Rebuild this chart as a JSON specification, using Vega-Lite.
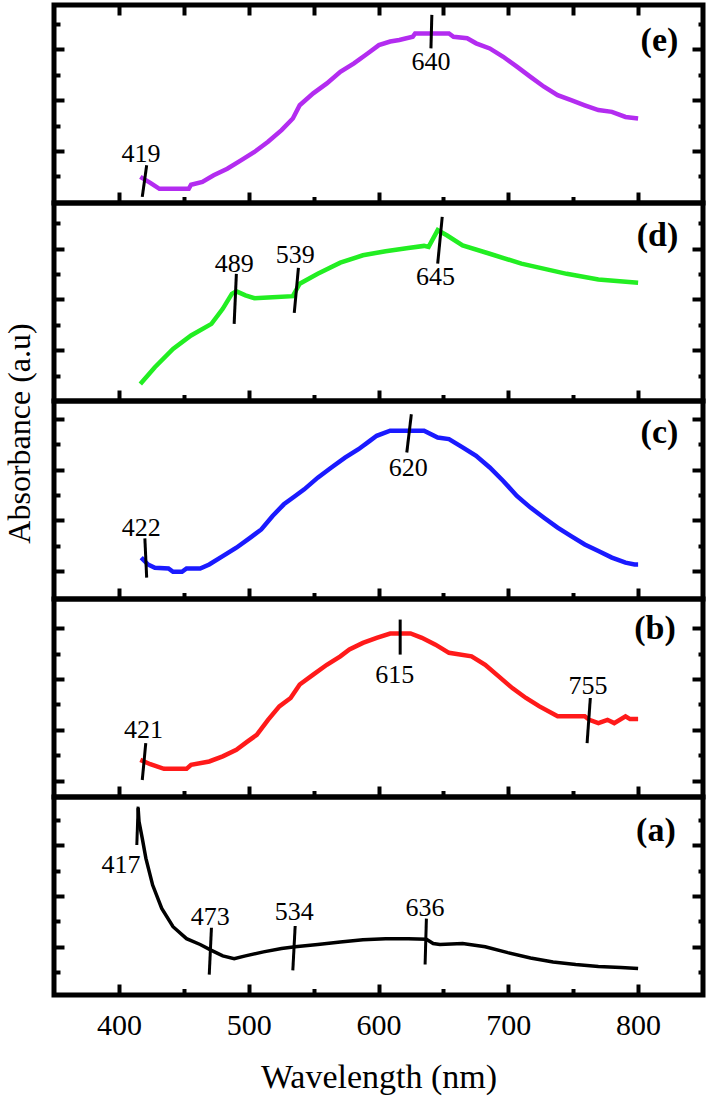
{
  "$schema": "https://vega.github.io/schema/vega-lite/v6.json",
  "padding": {"left": 0, "top": 0, "right": 4, "bottom": 2},
  "background": "white",
  "spacing": 0,
  "bounds": "flush",
  "config": {
    "view": {"stroke": "black", "strokeWidth": 5},
    "axis": {"domain": false, "grid": false, "tickColor": "black", "tickWidth": 4}
  },
  "datasets": {
    "curves": [
      {"p":"e","w":416.5,"a":1.03},{"p":"e","w":424.2,"a":0.79},{"p":"e","w":431.2,"a":0.56},{"p":"e","w":453.8,"a":0.56},{"p":"e","w":455.6,"a":0.72},{"p":"e","w":464.3,"a":0.83},{"p":"e","w":473,"a":1.09},{"p":"e","w":483.5,"a":1.35},{"p":"e","w":494,"a":1.68},{"p":"e","w":504.4,"a":2.01},{"p":"e","w":514.9,"a":2.41},{"p":"e","w":525.3,"a":2.87},{"p":"e","w":534,"a":3.33},{"p":"e","w":539.3,"a":3.85},{"p":"e","w":549.7,"a":4.32},{"p":"e","w":560.2,"a":4.71},{"p":"e","w":570.6,"a":5.17},{"p":"e","w":581.1,"a":5.5},{"p":"e","w":591.6,"a":5.89},{"p":"e","w":600.3,"a":6.22},{"p":"e","w":609,"a":6.36},{"p":"e","w":616,"a":6.42},{"p":"e","w":626.4,"a":6.55},{"p":"e","w":628.2,"a":6.68},{"p":"e","w":654.3,"a":6.68},{"p":"e","w":657.8,"a":6.55},{"p":"e","w":668.3,"a":6.49},{"p":"e","w":675.2,"a":6.29},{"p":"e","w":685.7,"a":6.09},{"p":"e","w":696.1,"a":5.76},{"p":"e","w":706.6,"a":5.37},{"p":"e","w":717.1,"a":4.97},{"p":"e","w":727.5,"a":4.58},{"p":"e","w":738,"a":4.25},{"p":"e","w":748.4,"a":4.05},{"p":"e","w":758.9,"a":3.85},{"p":"e","w":769.4,"a":3.66},{"p":"e","w":779.8,"a":3.59},{"p":"e","w":790.3,"a":3.39},{"p":"e","w":800,"a":3.33},
      {"p":"d","w":416.5,"a":0.67},{"p":"d","w":427.7,"a":1.33},{"p":"d","w":441.7,"a":2.05},{"p":"d","w":455.6,"a":2.58},{"p":"d","w":471.3,"a":3.04},{"p":"d","w":480,"a":3.63},{"p":"d","w":487,"a":4.22},{"p":"d","w":490.5,"a":4.32},{"p":"d","w":497.5,"a":4.16},{"p":"d","w":504.4,"a":4.05},{"p":"d","w":518.4,"a":4.09},{"p":"d","w":534,"a":4.13},{"p":"d","w":539.3,"a":4.62},{"p":"d","w":553.2,"a":5.01},{"p":"d","w":570.6,"a":5.45},{"p":"d","w":588,"a":5.74},{"p":"d","w":605.5,"a":5.9},{"p":"d","w":622.9,"a":6.03},{"p":"d","w":635.1,"a":6.11},{"p":"d","w":638.6,"a":6.07},{"p":"d","w":645.6,"a":6.73},{"p":"d","w":652.6,"a":6.53},{"p":"d","w":664.8,"a":6.13},{"p":"d","w":685.7,"a":5.8},{"p":"d","w":710.1,"a":5.41},{"p":"d","w":745,"a":5.01},{"p":"d","w":769.4,"a":4.79},{"p":"d","w":800,"a":4.66},
      {"p":"c","w":417.2,"a":1.63},{"p":"c","w":422.4,"a":1.36},{"p":"c","w":427.7,"a":1.23},{"p":"c","w":438.2,"a":1.2},{"p":"c","w":441.7,"a":1.07},{"p":"c","w":448.6,"a":1.07},{"p":"c","w":452.1,"a":1.2},{"p":"c","w":462.6,"a":1.2},{"p":"c","w":469.6,"a":1.36},{"p":"c","w":480,"a":1.69},{"p":"c","w":490.5,"a":2.02},{"p":"c","w":501,"a":2.41},{"p":"c","w":509.7,"a":2.74},{"p":"c","w":518.4,"a":3.27},{"p":"c","w":527.1,"a":3.73},{"p":"c","w":535.8,"a":4.06},{"p":"c","w":542.8,"a":4.32},{"p":"c","w":553.2,"a":4.78},{"p":"c","w":563.7,"a":5.18},{"p":"c","w":574.2,"a":5.57},{"p":"c","w":584.6,"a":5.9},{"p":"c","w":593.3,"a":6.23},{"p":"c","w":598.6,"a":6.43},{"p":"c","w":609,"a":6.63},{"p":"c","w":635.1,"a":6.63},{"p":"c","w":645.6,"a":6.36},{"p":"c","w":654.3,"a":6.3},{"p":"c","w":664.8,"a":5.97},{"p":"c","w":675.2,"a":5.64},{"p":"c","w":685.7,"a":5.18},{"p":"c","w":696.1,"a":4.65},{"p":"c","w":706.6,"a":4.06},{"p":"c","w":717.1,"a":3.6},{"p":"c","w":727.5,"a":3.2},{"p":"c","w":738,"a":2.81},{"p":"c","w":748.4,"a":2.48},{"p":"c","w":758.9,"a":2.15},{"p":"c","w":769.4,"a":1.89},{"p":"c","w":779.8,"a":1.63},{"p":"c","w":790.3,"a":1.43},{"p":"c","w":797.3,"a":1.36},{"p":"c","w":800,"a":1.36},
      {"p":"b","w":416.5,"a":1.46},{"p":"b","w":424.2,"a":1.29},{"p":"b","w":434.7,"a":1.11},{"p":"b","w":452.1,"a":1.11},{"p":"b","w":455.6,"a":1.27},{"p":"b","w":469.6,"a":1.4},{"p":"b","w":480,"a":1.6},{"p":"b","w":490.5,"a":1.86},{"p":"b","w":499.2,"a":2.19},{"p":"b","w":506.2,"a":2.45},{"p":"b","w":514.9,"a":3.04},{"p":"b","w":523.6,"a":3.57},{"p":"b","w":532.3,"a":3.9},{"p":"b","w":539.3,"a":4.43},{"p":"b","w":549.7,"a":4.82},{"p":"b","w":560.2,"a":5.21},{"p":"b","w":570.6,"a":5.54},{"p":"b","w":577.6,"a":5.81},{"p":"b","w":588,"a":6.07},{"p":"b","w":598.6,"a":6.27},{"p":"b","w":609,"a":6.44},{"p":"b","w":624.7,"a":6.44},{"p":"b","w":633.4,"a":6.27},{"p":"b","w":643.9,"a":6.0},{"p":"b","w":654.3,"a":5.68},{"p":"b","w":671.7,"a":5.54},{"p":"b","w":682.2,"a":5.21},{"p":"b","w":692.6,"a":4.75},{"p":"b","w":703.1,"a":4.29},{"p":"b","w":713.6,"a":3.9},{"p":"b","w":724,"a":3.57},{"p":"b","w":738,"a":3.18},{"p":"b","w":758.9,"a":3.18},{"p":"b","w":762.4,"a":3.04},{"p":"b","w":769.4,"a":2.91},{"p":"b","w":776.4,"a":3.04},{"p":"b","w":781.6,"a":2.91},{"p":"b","w":790.3,"a":3.18},{"p":"b","w":793.8,"a":3.07},{"p":"b","w":800,"a":3.07},
      {"p":"a","w":414.8,"a":7.36},{"p":"a","w":415.5,"a":6.83},{"p":"a","w":418,"a":6.17},{"p":"a","w":420.8,"a":5.38},{"p":"a","w":426,"a":4.33},{"p":"a","w":433,"a":3.41},{"p":"a","w":441.7,"a":2.69},{"p":"a","w":452.1,"a":2.22},{"p":"a","w":462.6,"a":1.99},{"p":"a","w":471.3,"a":1.76},{"p":"a","w":480,"a":1.54},{"p":"a","w":488.8,"a":1.43},{"p":"a","w":497.5,"a":1.54},{"p":"a","w":511.4,"a":1.7},{"p":"a","w":525.3,"a":1.83},{"p":"a","w":535.8,"a":1.9},{"p":"a","w":553.2,"a":1.99},{"p":"a","w":570.6,"a":2.09},{"p":"a","w":588,"a":2.18},{"p":"a","w":605.5,"a":2.22},{"p":"a","w":622.9,"a":2.22},{"p":"a","w":636.9,"a":2.2},{"p":"a","w":642.1,"a":2.03},{"p":"a","w":647.3,"a":1.99},{"p":"a","w":664.8,"a":2.03},{"p":"a","w":682.2,"a":1.9},{"p":"a","w":699.6,"a":1.67},{"p":"a","w":717.1,"a":1.46},{"p":"a","w":734.5,"a":1.3},{"p":"a","w":751.9,"a":1.2},{"p":"a","w":769.4,"a":1.12},{"p":"a","w":786.8,"a":1.08},{"p":"a","w":800,"a":1.04}
    ],
    "ann": [
      {"p":"e","t":"419","lx":417,"ly":1.95,"x1":421.4,"y1":1.49,"x2":418,"y2":0.24},
      {"p":"e","t":"640","lx":640.4,"ly":5.57,"x1":641.1,"y1":7.41,"x2":640.4,"y2":6.09},
      {"p":"d","t":"489","lx":488.9,"ly":5.41,"x1":490.5,"y1":5.01,"x2":488.8,"y2":3.04},
      {"p":"d","t":"539","lx":535.8,"ly":5.74,"x1":538.3,"y1":5.24,"x2":535.1,"y2":3.47},
      {"p":"d","t":"645","lx":643.9,"ly":4.88,"x1":649.1,"y1":7.25,"x2":645.6,"y2":5.41},
      {"p":"c","t":"422","lx":417.2,"ly":2.81,"x1":420,"y1":2.39,"x2":421.4,"y2":0.84},
      {"p":"c","t":"620","lx":622.9,"ly":5.18,"x1":625.3,"y1":7.28,"x2":621.8,"y2":5.77},
      {"p":"b","t":"421","lx":418.9,"ly":2.65,"x1":420.7,"y1":2.12,"x2":418,"y2":0.67},
      {"p":"b","t":"615","lx":612.5,"ly":4.82,"x1":616.7,"y1":6.99,"x2":616.7,"y2":5.61},
      {"p":"b","t":"755","lx":761.4,"ly":4.36,"x1":763.2,"y1":3.9,"x2":760.7,"y2":2.12},
      {"p":"a","t":"417","lx":401.6,"ly":5.12,"x1":414.8,"y1":7.42,"x2":413.8,"y2":5.91},
      {"p":"a","t":"473","lx":470.3,"ly":3.08,"x1":471.3,"y1":2.65,"x2":469.6,"y2":0.8},
      {"p":"a","t":"534","lx":535.1,"ly":3.28,"x1":535.8,"y1":2.72,"x2":534,"y2":0.97},
      {"p":"a","t":"636","lx":635.9,"ly":3.43,"x1":636.9,"y1":3.01,"x2":635.9,"y2":1.2}
    ],
    "letters": [
      {"p":"e","t":"(e)"},{"p":"d","t":"(d)"},{"p":"c","t":"(c)"},{"p":"b","t":"(b)"},{"p":"a","t":"(a)"}
    ]
  },
  "vconcat": [
    {
      "width": 649, "height": 198,
      "layer": [
        {"data": {"name": "curves"}, "transform": [{"filter": "datum.p === 'e'"}],
         "mark": {"type": "line", "color": "#b32cf0", "strokeWidth": 4.5},
         "encoding": {
           "x": {"field": "w", "type": "quantitative", "scale": {"domain": [350, 850], "nice": false},
                 "axis": {"orient": "bottom", "values": [400,450,500,550,600,650,700,750,800], "labels": false, "title": null, "tickSize": -11,
                          "tickDash": {"condition": {"test": "datum.value % 100 !== 0", "value": [6.5, 40]}, "value": [30, 0]}}},
           "y": {"field": "a", "type": "quantitative", "scale": {"domain": [0, 7.8], "nice": false, "zero": false},
                 "axis": {"orient": "left", "values": [1.05,2.05,3.05,4.05,5.05,6.05,7.05], "labels": false, "title": null, "tickSize": -10,
                          "tickDash": {"condition": {"test": "round(datum.value - 2.05) % 2 !== 0", "value": [6, 40]}, "value": [30, 0]}}}
         }},
        {"data": {"name": "ann"}, "transform": [{"filter": "datum.p === 'e'"}],
         "mark": {"type": "rule", "color": "black", "strokeWidth": 3},
         "encoding": {
           "x": {"field": "x1", "type": "quantitative", "scale": {"domain": [350, 850], "nice": false},
                 "axis": {"orient": "top", "values": [400,450,500,550,600,650,700,750,800], "labels": false, "title": null, "tickSize": -10}},
           "y": {"field": "y1", "type": "quantitative", "scale": {"domain": [0, 7.8], "nice": false, "zero": false},
                 "axis": {"orient": "right", "values": [1.05,2.05,3.05,4.05,5.05,6.05,7.05], "labels": false, "title": null, "tickSize": -11,
                          "tickDash": {"condition": {"test": "round(datum.value - 2.05) % 2 !== 0", "value": [5, 40]}, "value": [30, 0]}}},
           "x2": {"field": "x2"}, "y2": {"field": "y2"}
         }},
        {"data": {"name": "ann"}, "transform": [{"filter": "datum.p === 'e'"}],
         "mark": {"type": "text", "font": "Liberation Serif", "fontSize": 26, "color": "black"},
         "encoding": {
           "x": {"field": "lx", "type": "quantitative", "scale": {"domain": [350, 850], "nice": false}, "axis": null},
           "y": {"field": "ly", "type": "quantitative", "scale": {"domain": [0, 7.8], "nice": false, "zero": false}, "axis": null},
           "text": {"field": "t"}
         }},
        {"data": {"name": "letters"}, "transform": [{"filter": "datum.p === 'e'"}],
         "mark": {"type": "text", "font": "Liberation Serif", "fontSize": 34, "fontWeight": "bold", "align": "right", "color": "black"},
         "encoding": {
           "x": {"datum": 831, "type": "quantitative", "scale": {"domain": [350, 850], "nice": false}, "axis": null},
           "y": {"datum": 6.4, "type": "quantitative", "scale": {"domain": [0, 7.8], "nice": false, "zero": false}, "axis": null},
           "text": {"field": "t"}
         }}
      ],
      "resolve": {"axis": {"x": "independent", "y": "independent"}}
    },
    {
      "width": 649, "height": 198,
      "layer": [
        {"data": {"name": "curves"}, "transform": [{"filter": "datum.p === 'd'"}],
         "mark": {"type": "line", "color": "#22ee22", "strokeWidth": 4.5},
         "encoding": {
           "x": {"field": "w", "type": "quantitative", "scale": {"domain": [350, 850], "nice": false},
                 "axis": {"orient": "bottom", "values": [400,450,500,550,600,650,700,750,800], "labels": false, "title": null, "tickSize": -11,
                          "tickDash": {"condition": {"test": "datum.value % 100 !== 0", "value": [6.5, 40]}, "value": [30, 0]}}},
           "y": {"field": "a", "type": "quantitative", "scale": {"domain": [0, 7.8], "nice": false, "zero": false},
                 "axis": {"orient": "left", "values": [1,2,3,4,5,6,7], "labels": false, "title": null, "tickSize": -10,
                          "tickDash": {"condition": {"test": "round(datum.value) % 2 !== 0", "value": [6, 40]}, "value": [30, 0]}}}
         }},
        {"data": {"name": "ann"}, "transform": [{"filter": "datum.p === 'd'"}],
         "mark": {"type": "rule", "color": "black", "strokeWidth": 3},
         "encoding": {
           "x": {"field": "x1", "type": "quantitative", "scale": {"domain": [350, 850], "nice": false}, "axis": null},
           "y": {"field": "y1", "type": "quantitative", "scale": {"domain": [0, 7.8], "nice": false, "zero": false},
                 "axis": {"orient": "right", "values": [1,2,3,4,5,6,7], "labels": false, "title": null, "tickSize": -11,
                          "tickDash": {"condition": {"test": "round(datum.value) % 2 !== 0", "value": [5, 40]}, "value": [30, 0]}}},
           "x2": {"field": "x2"}, "y2": {"field": "y2"}
         }},
        {"data": {"name": "ann"}, "transform": [{"filter": "datum.p === 'd'"}],
         "mark": {"type": "text", "font": "Liberation Serif", "fontSize": 26, "color": "black"},
         "encoding": {
           "x": {"field": "lx", "type": "quantitative", "scale": {"domain": [350, 850], "nice": false}, "axis": null},
           "y": {"field": "ly", "type": "quantitative", "scale": {"domain": [0, 7.8], "nice": false, "zero": false}, "axis": null},
           "text": {"field": "t"}
         }},
        {"data": {"name": "letters"}, "transform": [{"filter": "datum.p === 'd'"}],
         "mark": {"type": "text", "font": "Liberation Serif", "fontSize": 34, "fontWeight": "bold", "align": "right", "color": "black"},
         "encoding": {
           "x": {"datum": 831, "type": "quantitative", "scale": {"domain": [350, 850], "nice": false}, "axis": null},
           "y": {"datum": 6.5, "type": "quantitative", "scale": {"domain": [0, 7.8], "nice": false, "zero": false}, "axis": null},
           "text": {"field": "t"}
         }}
      ],
      "resolve": {"axis": {"x": "independent", "y": "independent"}}
    },
    {
      "width": 649, "height": 198,
      "layer": [
        {"data": {"name": "curves"}, "transform": [{"filter": "datum.p === 'c'"}],
         "mark": {"type": "line", "color": "#1a1aff", "strokeWidth": 4.5},
         "encoding": {
           "x": {"field": "w", "type": "quantitative", "scale": {"domain": [350, 850], "nice": false},
                 "axis": {"orient": "bottom", "values": [400,450,500,550,600,650,700,750,800], "labels": false, "title": null, "tickSize": -11,
                          "tickDash": {"condition": {"test": "datum.value % 100 !== 0", "value": [6.5, 40]}, "value": [30, 0]}}},
           "y": {"field": "a", "type": "quantitative", "scale": {"domain": [0, 7.8], "nice": false, "zero": false},
                 "axis": {"orient": "left", "values": [1.1,2.1,3.1,4.1,5.1,6.1,7.1], "labels": false, "tickSize": -10,
                          "tickDash": {"condition": {"test": "round(datum.value - 1.1) % 2 !== 0", "value": [6, 40]}, "value": [30, 0]},
                          "title": "Absorbance (a.u)", "titleFont": "Liberation Serif", "titleFontSize": 32, "titleFontWeight": "normal", "titleColor": "black",
                          "titleX": -25, "titleY": 32, "titleBaseline": "alphabetic", "titleAngle": 270}}
         }},
        {"data": {"name": "ann"}, "transform": [{"filter": "datum.p === 'c'"}],
         "mark": {"type": "rule", "color": "black", "strokeWidth": 3},
         "encoding": {
           "x": {"field": "x1", "type": "quantitative", "scale": {"domain": [350, 850], "nice": false}, "axis": null},
           "y": {"field": "y1", "type": "quantitative", "scale": {"domain": [0, 7.8], "nice": false, "zero": false},
                 "axis": {"orient": "right", "values": [1.1,2.1,3.1,4.1,5.1,6.1,7.1], "labels": false, "title": null, "tickSize": -11,
                          "tickDash": {"condition": {"test": "round(datum.value - 1.1) % 2 !== 0", "value": [5, 40]}, "value": [30, 0]}}},
           "x2": {"field": "x2"}, "y2": {"field": "y2"}
         }},
        {"data": {"name": "ann"}, "transform": [{"filter": "datum.p === 'c'"}],
         "mark": {"type": "text", "font": "Liberation Serif", "fontSize": 26, "color": "black"},
         "encoding": {
           "x": {"field": "lx", "type": "quantitative", "scale": {"domain": [350, 850], "nice": false}, "axis": null},
           "y": {"field": "ly", "type": "quantitative", "scale": {"domain": [0, 7.8], "nice": false, "zero": false}, "axis": null},
           "text": {"field": "t"}
         }},
        {"data": {"name": "letters"}, "transform": [{"filter": "datum.p === 'c'"}],
         "mark": {"type": "text", "font": "Liberation Serif", "fontSize": 34, "fontWeight": "bold", "align": "right", "color": "black"},
         "encoding": {
           "x": {"datum": 831, "type": "quantitative", "scale": {"domain": [350, 850], "nice": false}, "axis": null},
           "y": {"datum": 6.55, "type": "quantitative", "scale": {"domain": [0, 7.8], "nice": false, "zero": false}, "axis": null},
           "text": {"field": "t"}
         }}
      ],
      "resolve": {"axis": {"x": "independent", "y": "independent"}}
    },
    {
      "width": 649, "height": 198,
      "layer": [
        {"data": {"name": "curves"}, "transform": [{"filter": "datum.p === 'b'"}],
         "mark": {"type": "line", "color": "#ff1a1a", "strokeWidth": 4.5},
         "encoding": {
           "x": {"field": "w", "type": "quantitative", "scale": {"domain": [350, 850], "nice": false},
                 "axis": {"orient": "bottom", "values": [400,450,500,550,600,650,700,750,800], "labels": false, "title": null, "tickSize": -11,
                          "tickDash": {"condition": {"test": "datum.value % 100 !== 0", "value": [6.5, 40]}, "value": [30, 0]}}},
           "y": {"field": "a", "type": "quantitative", "scale": {"domain": [0, 7.8], "nice": false, "zero": false},
                 "axis": {"orient": "left", "values": [0.65,1.65,2.65,3.65,4.65,5.65,6.65], "labels": false, "title": null, "tickSize": -10,
                          "tickDash": {"condition": {"test": "round(datum.value - 0.65) % 2 !== 0", "value": [6, 40]}, "value": [30, 0]}}}
         }},
        {"data": {"name": "ann"}, "transform": [{"filter": "datum.p === 'b'"}],
         "mark": {"type": "rule", "color": "black", "strokeWidth": 3},
         "encoding": {
           "x": {"field": "x1", "type": "quantitative", "scale": {"domain": [350, 850], "nice": false}, "axis": null},
           "y": {"field": "y1", "type": "quantitative", "scale": {"domain": [0, 7.8], "nice": false, "zero": false},
                 "axis": {"orient": "right", "values": [0.65,1.65,2.65,3.65,4.65,5.65,6.65], "labels": false, "title": null, "tickSize": -11,
                          "tickDash": {"condition": {"test": "round(datum.value - 0.65) % 2 !== 0", "value": [5, 40]}, "value": [30, 0]}}},
           "x2": {"field": "x2"}, "y2": {"field": "y2"}
         }},
        {"data": {"name": "ann"}, "transform": [{"filter": "datum.p === 'b'"}],
         "mark": {"type": "text", "font": "Liberation Serif", "fontSize": 26, "color": "black"},
         "encoding": {
           "x": {"field": "lx", "type": "quantitative", "scale": {"domain": [350, 850], "nice": false}, "axis": null},
           "y": {"field": "ly", "type": "quantitative", "scale": {"domain": [0, 7.8], "nice": false, "zero": false}, "axis": null},
           "text": {"field": "t"}
         }},
        {"data": {"name": "letters"}, "transform": [{"filter": "datum.p === 'b'"}],
         "mark": {"type": "text", "font": "Liberation Serif", "fontSize": 34, "fontWeight": "bold", "align": "right", "color": "black"},
         "encoding": {
           "x": {"datum": 829, "type": "quantitative", "scale": {"domain": [350, 850], "nice": false}, "axis": null},
           "y": {"datum": 6.6, "type": "quantitative", "scale": {"domain": [0, 7.8], "nice": false, "zero": false}, "axis": null},
           "text": {"field": "t"}
         }}
      ],
      "resolve": {"axis": {"x": "independent", "y": "independent"}}
    },
    {
      "width": 649, "height": 198,
      "layer": [
        {"data": {"name": "curves"}, "transform": [{"filter": "datum.p === 'a'"}],
         "mark": {"type": "line", "color": "black", "strokeWidth": 3.5},
         "encoding": {
           "x": {"field": "w", "type": "quantitative", "scale": {"domain": [350, 850], "nice": false},
                 "axis": {"orient": "bottom", "values": [400,450,500,550,600,650,700,750,800], "tickSize": -11,
                          "tickDash": {"condition": {"test": "datum.value % 100 !== 0", "value": [6.5, 40]}, "value": [30, 0]},
                          "labels": true, "labelExpr": "datum.value % 100 === 0 ? datum.label : ''", "labelFont": "Liberation Serif", "labelFontSize": 30,
                          "labelColor": "black", "labelPadding": 26, "labelFlush": false, "labelOverlap": false,
                          "title": "Wavelength (nm)", "titleFont": "Liberation Serif", "titleFontSize": 34, "titleFontWeight": "normal", "titleColor": "black", "titlePadding": 20}},
           "y": {"field": "a", "type": "quantitative", "scale": {"domain": [0, 7.8], "nice": false, "zero": false},
                 "axis": {"orient": "left", "values": [0.9,1.9,2.9,3.9,4.9,5.9,6.9], "labels": false, "title": null, "tickSize": -10,
                          "tickDash": {"condition": {"test": "round(datum.value - 1.9) % 2 !== 0", "value": [6, 40]}, "value": [30, 0]}}}
         }},
        {"data": {"name": "ann"}, "transform": [{"filter": "datum.p === 'a'"}],
         "mark": {"type": "rule", "color": "black", "strokeWidth": 3},
         "encoding": {
           "x": {"field": "x1", "type": "quantitative", "scale": {"domain": [350, 850], "nice": false}, "axis": null},
           "y": {"field": "y1", "type": "quantitative", "scale": {"domain": [0, 7.8], "nice": false, "zero": false},
                 "axis": {"orient": "right", "values": [0.9,1.9,2.9,3.9,4.9,5.9,6.9], "labels": false, "title": null, "tickSize": -11,
                          "tickDash": {"condition": {"test": "round(datum.value - 1.9) % 2 !== 0", "value": [5, 40]}, "value": [30, 0]}}},
           "x2": {"field": "x2"}, "y2": {"field": "y2"}
         }},
        {"data": {"name": "ann"}, "transform": [{"filter": "datum.p === 'a'"}],
         "mark": {"type": "text", "font": "Liberation Serif", "fontSize": 26, "color": "black"},
         "encoding": {
           "x": {"field": "lx", "type": "quantitative", "scale": {"domain": [350, 850], "nice": false}, "axis": null},
           "y": {"field": "ly", "type": "quantitative", "scale": {"domain": [0, 7.8], "nice": false, "zero": false}, "axis": null},
           "text": {"field": "t"}
         }},
        {"data": {"name": "letters"}, "transform": [{"filter": "datum.p === 'a'"}],
         "mark": {"type": "text", "font": "Liberation Serif", "fontSize": 34, "fontWeight": "bold", "align": "right", "color": "black"},
         "encoding": {
           "x": {"datum": 829, "type": "quantitative", "scale": {"domain": [350, 850], "nice": false}, "axis": null},
           "y": {"datum": 6.45, "type": "quantitative", "scale": {"domain": [0, 7.8], "nice": false, "zero": false}, "axis": null},
           "text": {"field": "t"}
         }}
      ],
      "resolve": {"axis": {"x": "independent", "y": "independent"}}
    }
  ]
}
